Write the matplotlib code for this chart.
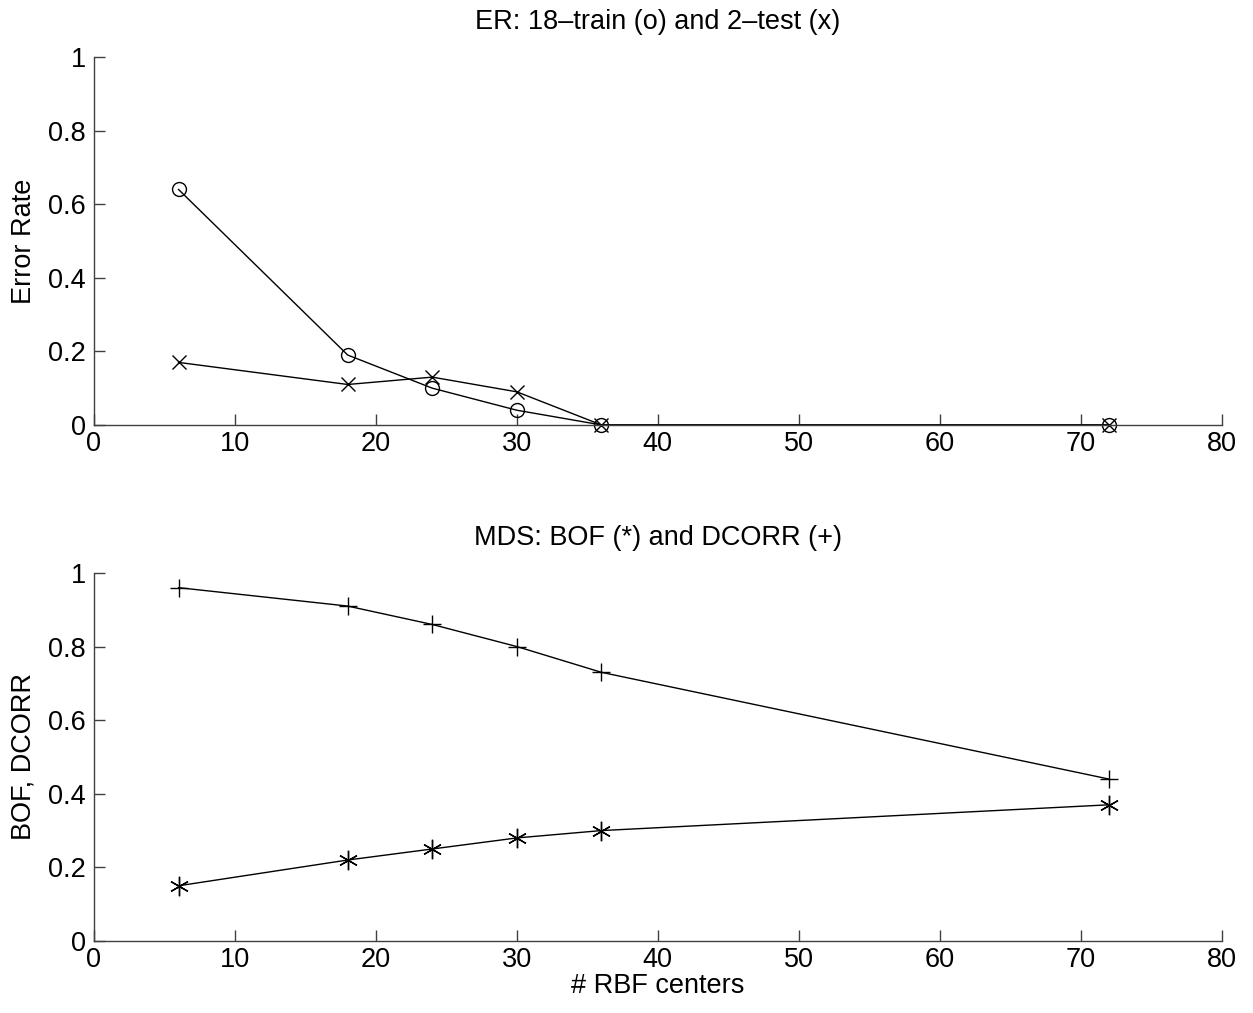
import matplotlib
matplotlib.use("Agg")
import matplotlib.pyplot as plt

centers = [6, 18, 24, 30, 36, 72]
er_train = [0.64, 0.19, 0.10, 0.04, 0.0, 0.0]
er_test = [0.17, 0.11, 0.13, 0.09, 0.0, 0.0]
bof = [0.15, 0.22, 0.25, 0.28, 0.30, 0.37]
dcorr = [0.96, 0.91, 0.86, 0.80, 0.73, 0.44]

plt.rcParams['font.family'] = ['Liberation Sans', 'DejaVu Sans']
fig = plt.figure(figsize=(12.53, 10.13), dpi=100)
ax1 = fig.add_axes([0.075, 0.5805, 0.9, 0.3632])
ax2 = fig.add_axes([0.075, 0.0711, 0.9, 0.3633])

lw = 1.0
ax1.plot(centers, er_train, '-', color='k', lw=lw, marker='o', mfc='none', ms=10, mew=1.0, clip_on=False)
ax1.plot(centers, er_test, '-', color='k', lw=lw, marker='x', ms=10, mew=1.0, clip_on=False)
ax2.plot(centers, dcorr, '-', color='k', lw=lw, marker='+', ms=13, mew=1.0, clip_on=False)
ax2.plot(centers, bof, '-', color='k', lw=lw, marker=(6, 2, 0), ms=14, mew=1.0, clip_on=False)

fs = 19.5
for ax in (ax1, ax2):
    ax.set_xlim(0, 80)
    ax.set_ylim(0, 1)
    ax.set_xticks([0, 10, 20, 30, 40, 50, 60, 70, 80])
    ax.set_yticks([0, 0.2, 0.4, 0.6, 0.8, 1])
    ax.set_yticklabels(['0', '0.2', '0.4', '0.6', '0.8', '1'])
    ax.spines['top'].set_visible(False)
    ax.spines['right'].set_visible(False)
    for s in ('left', 'bottom'):
        ax.spines[s].set_linewidth(1.0)
        ax.spines[s].set_color('#404040')
    ax.tick_params(direction='in', length=8, width=1, color='#404040', labelsize=fs, pad=6)
    ax.tick_params(axis='x', pad=4)

ax1.set_title('ER: 18\u2013train (o) and 2\u2013test (x)', fontsize=fs, pad=20)
ax1.set_ylabel('Error Rate', fontsize=fs, labelpad=8)
ax2.set_title('MDS: BOF (*) and DCORR (+)', fontsize=fs, pad=20)
ax2.set_ylabel('BOF, DCORR', fontsize=fs, labelpad=8)
ax2.set_xlabel('# RBF centers', fontsize=fs, labelpad=0)

fig.savefig('out.png', dpi=100)
